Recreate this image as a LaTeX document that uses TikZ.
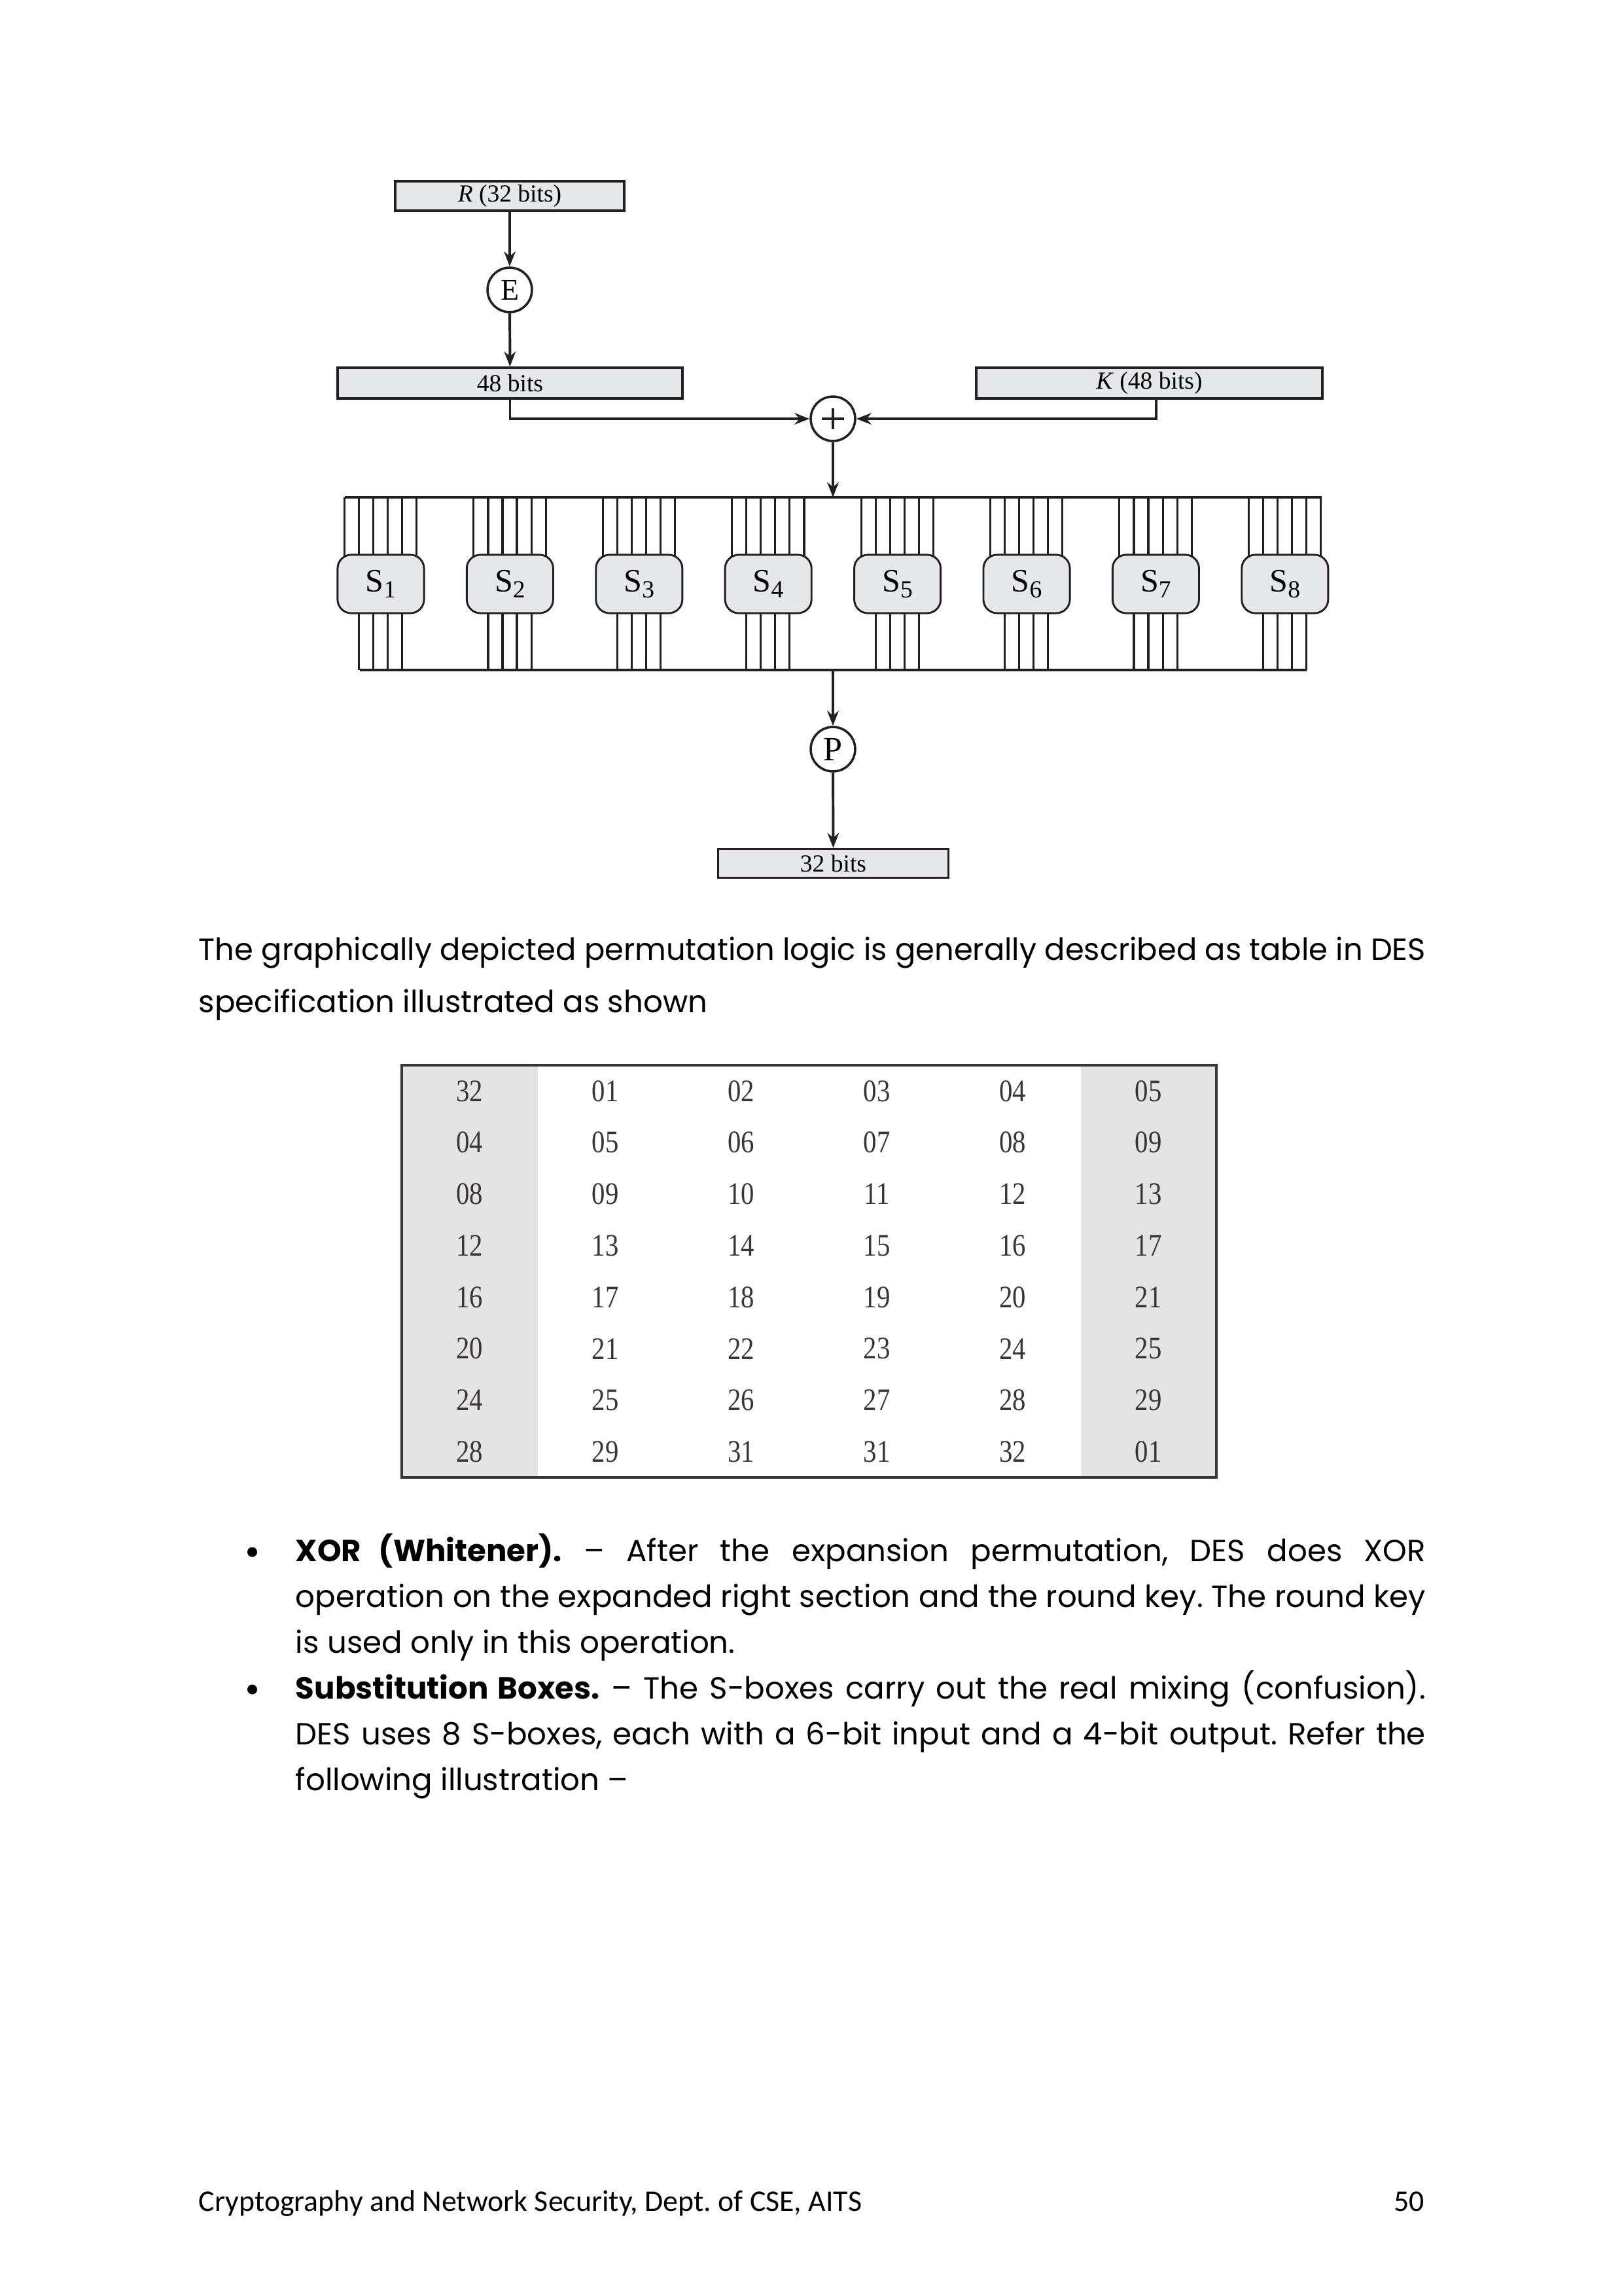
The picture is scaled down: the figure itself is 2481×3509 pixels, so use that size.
\documentclass[tikz,border=0pt]{standalone}
\usepackage{fontspec}
\usepackage{graphicx}
\setmainfont{Poppins}
\newfontfamily\dserif{Liberation Serif}
\newfontfamily\footfont{Carlito}
\usetikzlibrary{arrows.meta,calc}
\definecolor{ink}{HTML}{231F20}
\definecolor{boxgray}{HTML}{E6E7E8}
\definecolor{colgray}{HTML}{E4E4E4}
\frenchspacing
\newlength\jlen
\newcommand\jline[2]{\settowidth\jlen{#2}\ifdim\jlen>#1\relax\resizebox{#1}{\height}{#2}\else\makebox[#1][s]{#2}\fi}
\newcommand\sbsub[1]{\raisebox{-2pt}{\fontsize{9}{9}\selectfont #1}}
\tikzset{
  bitbox/.style={draw=ink, line width=0.8pt, fill=boxgray, inner sep=0pt, font=\dserif\fontsize{9}{9}\selectfont},
  opcircle/.style={circle, draw=ink, line width=0.85pt, fill=white, minimum size=16.3pt, inner sep=0pt, font=\dserif\fontsize{11}{11}\selectfont},
  sbox/.style={draw=ink, line width=0.7pt, fill=boxgray, rounded corners=5pt, minimum width=31.7pt, minimum height=21.4pt, inner sep=0pt, font=\dserif\fontsize{12}{12}\selectfont},
  wire/.style={ink, line width=0.75pt},
  bus/.style={ink, line width=1pt},
  flow/.style={ink, line width=0.95pt, -{Stealth[length=5.5pt,width=4.2pt]}},
  txt/.style={anchor=base west, inner sep=0pt, font=\fontsize{11.2}{13}\selectfont\frenchspacing},
  bulletdot/.style={circle, fill=black, minimum size=3.6pt, inner sep=0pt},
  tnum/.style={inner sep=0pt, text=ink!90, font=\dserif\fontsize{11.5}{11.5}\selectfont},
  foot/.style={inner sep=0pt, font=\footfont\fontsize{11}{12}\selectfont}
}
\begin{document}
\begin{tikzpicture}[x=0.23994pt,y=-0.23994pt]
\useasboundingbox[fill=white] (0,0) rectangle (2481,3509);

% ---- top part ----
\node[bitbox, minimum width=84pt, minimum height=10.8pt] (R) at (779,299.5) {\textit{R} (32 bits)};
\node[opcircle] (E) at (779,443) {E};
\node[bitbox, minimum width=126.4pt, minimum height=11.3pt] (b48) at (779.5,585.5) {48 bits};
\node[bitbox, minimum width=126.9pt, minimum height=11.3pt] (K) at (1756.5,585.5) {\textit{K} (48 bits)};
\node[opcircle] (xor) at (1273,640) {};
\draw[ink, line width=0.8pt] ($(xor)+(-17,0)$) -- ($(xor)+(17,0)$);
\draw[ink, line width=0.8pt] ($(xor)+(0,-16)$) -- ($(xor)+(0,16)$);

\draw[flow] (R) -- (E);
\draw[flow] (E) -- (b48);
\draw[flow] (b48.south) |- (xor);
\draw[flow] ([xshift=2.4pt]K.south) |- (xor);

% ---- S-boxes ----
\coordinate (topbus) at (1273,760);
\coordinate (botbus) at (1273,1024);
\draw[bus] (526.5,760) -- (2020,760);
\draw[bus] (549.5,1024) -- (1997,1024);
\draw[flow] (xor) -- (topbus);
\foreach \i in {1,...,8} {
  \pgfmathsetmacro\L{516+(\i-1)*197.4}
  \foreach \k in {0,...,5} { \draw[wire] (\L+10.5+\k*22.05,760) -- (\L+10.5+\k*22.05,850); }
  \foreach \k in {1,...,4} { \draw[wire] (\L+10.5+\k*22.05,935) -- (\L+10.5+\k*22.05,1024); }
  \node[sbox] (s\i) at (\L+66,892.5) {S\sbsub{\i}};
}

\node[opcircle, font=\dserif\fontsize{12.5}{12.5}\selectfont] (P) at (1273,1145) {P};
\node[bitbox, minimum width=84.4pt, minimum height=10.6pt] (b32) at (1273.5,1319.7) {32 bits};
\draw[flow] (botbus) -- (P);
\draw[flow] (P) -- (b32);

% ---- paragraph ----
\node[txt] (p1a) at (303,1467) {\jline{449.9pt}{The graphically depicted permutation logic is generally described as table in DES}};
\node[txt] (p1b) at (303,1547) {specification illustrated as shown};

% ---- table ----
\fill[colgray] (614,1628) rectangle (821.5,2258);
\fill[colgray] (1651.5,1628) rectangle (1859,2258);
\draw[ink!90, line width=1.1pt] (614,1628) rectangle (1859,2258);
\foreach \row [count=\r from 0] in {{32,01,02,03,04,05},{04,05,06,07,08,09},{08,09,10,11,12,13},{12,13,14,15,16,17},{16,17,18,19,20,21},{20,21,22,23,24,25},{24,25,26,27,28,29},{28,29,31,31,32,01}} {
  \foreach \v [count=\c from 0] in \row {
    \node[tnum] (t\r\c) at (717.75+207.5*\c,1667.4+78.75*\r) {\scalebox{0.85}[1]{\v}};
  }
}

% ---- bullets ----
\node[bulletdot] (bul1) at (385.5,2372) {};
\node[txt] (b1a) at (451,2386.7) {\jline{414.4pt}{\textbf{XOR (Whitener).} – After the expansion permutation, DES does XOR}};
\node[txt] (b1b) at (451,2456.7) {\jline{414.4pt}{operation on the expanded right section and the round key. The round key}};
\node[txt] (b1c) at (451,2526.7) {is used only in this operation.};
\node[bulletdot] (bul2) at (385.5,2582) {};
\node[txt] (b2a) at (451,2596.7) {\jline{414.4pt}{\textbf{Substitution Boxes.} – The S-boxes carry out the real mixing (confusion).}};
\node[txt] (b2b) at (451,2666.7) {\jline{414.4pt}{DES uses 8 S-boxes, each with a 6-bit input and a 4-bit output. Refer the}};
\node[txt] (b2c) at (451,2736.7) {following illustration –};

% ---- footer ----
\node[foot, anchor=base west] (ft) at (303,3379.3) {Cryptography and Network Security, Dept. of CSE, AITS};
\node[foot, anchor=base east] (pg) at (2178,3379.3) {50};
\end{tikzpicture}
\end{document}
